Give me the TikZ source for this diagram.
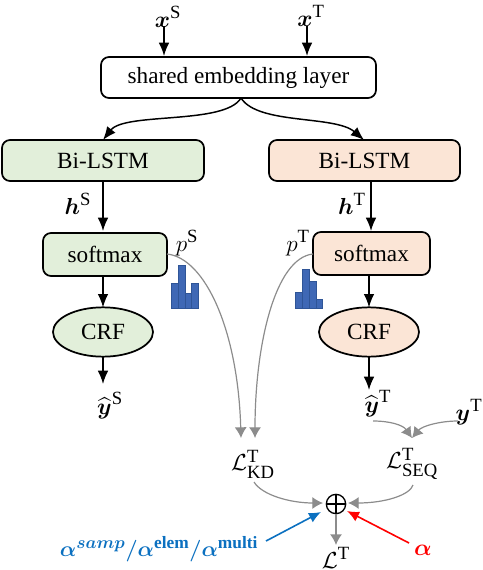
\RequirePackage{fix-cm}
\documentclass[tikz,border=0pt]{standalone}
\usepackage{amsmath,amssymb}
\usepackage{fontspec}
\setmainfont{Liberation Serif}
\DeclareMathSizes{17.4}{17.4}{14}{11}
\usetikzlibrary{arrows.meta,shapes.geometric}
\definecolor{gfill}{HTML}{E2EFDA}
\definecolor{ofill}{HTML}{FBE5D6}
\definecolor{grayline}{HTML}{8C8C8C}
\definecolor{bluearrow}{HTML}{0B70C0}
\definecolor{barfill}{HTML}{3F68B5}
\definecolor{baredge}{HTML}{2F5597}
\tikzset{
  x=0.75pt,y=-0.75pt,
  every node/.style={font=\fontsize{17.4}{20}\selectfont,inner sep=0pt,outer sep=0pt},
  rbox/.style={draw=black,line width=1.3pt,rounded corners=6pt,anchor=north west},
  crfnode/.style={draw=black,line width=1.3pt,ellipse,minimum width=75pt,minimum height=37pt},
  blackarrow/.style={line width=1.1pt,-{Latex[length=10pt,width=8pt]}},
  greyarrow/.style={draw=grayline,line width=0.9pt,-{Latex[length=8pt,width=9pt]}},
  bar/.style={draw=baredge,fill=barfill,line width=0.7pt},
}
\newcommand{\mybox}[7]{\node[rbox,fill=#6,minimum width=#4*0.75pt,minimum height=#5*0.75pt] (#1) at (#2,#3) {#7};}
\begin{document}
\begin{tikzpicture}
\useasboundingbox (0,0) rectangle (482,570);
% boxes
\mybox{shared}{101}{57}{275}{41}{white}{shared embedding layer}
\mybox{lstmS}{2}{140}{202}{41}{gfill}{Bi-LSTM}
\mybox{lstmT}{269}{140}{191}{41}{ofill}{Bi-LSTM}
\mybox{softS}{43}{233}{124}{43}{gfill}{softmax}
\mybox{softT}{313}{232}{117}{43}{ofill}{softmax\hspace{4.5pt}}
\node[crfnode,fill=gfill] (crfS) at (103,332) {CRF};
\node[crfnode,fill=ofill] (crfT) at (369,332) {CRF};
% labels
\node (xS) at (168,17) {$\boldsymbol{x}^{\mathrm{S}}$};
\node (xT) at (311,16) {$\boldsymbol{x}^{\mathrm{T}}$};
\node (hS) at (78,204) {$\boldsymbol{h}^{\mathrm{S}}$};
\node (hT) at (352,204) {$\boldsymbol{h}^{\mathrm{T}}$};
\node (pS) at (187,243) {$p^{\mathrm{S}}$};
\node (pT) at (298,243) {$p^{\mathrm{T}}$};
\node (yhS) at (110,406) {$\widehat{\boldsymbol{y}}^{\mathrm{S}}$};
\node (yhT) at (378,404) {$\widehat{\boldsymbol{y}}^{\mathrm{T}}$};
\node (yT) at (469,412) {$\boldsymbol{y}^{\mathrm{T}}$};
\node (LKD) at (253,464) {$\mathcal{L}^{\mathrm{T}}_{\mathrm{KD}}$};
\node (LSEQ) at (412,464) {$\mathcal{L}^{\mathrm{T}}_{\mathrm{SEQ}}$};
\node (LT) at (336,558) {$\mathcal{L}^{\mathrm{T}}$};
\node[text=red] (aR) at (423,550) {$\boldsymbol{\alpha}$};
\node[text=bluearrow,scale=0.93] (aB) at (159,549) {$\boldsymbol{\alpha}^{\boldsymbol{samp}}\boldsymbol{/}\boldsymbol{\alpha}^{\mathbf{elem}}\boldsymbol{/}\boldsymbol{\alpha}^{\mathbf{multi}}$};
\node[draw=black,line width=1pt,circle,minimum size=14.5pt] (plus) at (336,504) {};
\draw[black,line width=1pt] (plus.north) -- (plus.south) (plus.west) -- (plus.east);
% coordinates
\coordinate (sb) at (241,98);
\coordinate (lt1) at (103,140);
\coordinate (rt1) at (364,140);
\coordinate (pSs) at (167,254);
\coordinate (pSe) at (241,438);
\coordinate (pTs) at (313,254);
\coordinate (pTe) at (255,438);
\coordinate (yhTe) at (373,421);
\coordinate (yTe) at (458,421);
\coordinate (seqin) at (412,438);
\coordinate (kdout) at (254,482);
\coordinate (seqout) at (413,485);
\coordinate (bS) at (266,541);
\coordinate (bE) at (321,512);
\coordinate (rS) at (409,543);
\coordinate (rE) at (347,511);
\coordinate (ltin) at (323,503);
\coordinate (rtin) at (348,503);
% black connectors
\draw[blackarrow] (164,26) -- (164,56);
\draw[blackarrow] (307,26) -- (307,56);
\draw[blackarrow] (sb) .. controls (225,125) and (125,112) .. (lt1);
\draw[blackarrow] (sb) .. controls (258,125) and (335,115) .. (rt1);
\draw[blackarrow] (103,181) -- (103,231);
\draw[blackarrow] (371,181) -- (371,231);
\draw[blackarrow] (103,276) -- (crfS.north);
\draw[blackarrow] (369,275) -- (crfT.north);
\draw[blackarrow] (crfS.south) -- (103,384);
\draw[blackarrow] (crfT.south) -- (369,390);
% histograms
\draw[bar] (171,283) rectangle (178,308);
\draw[bar] (178,265) rectangle (185,308);
\draw[bar] (185,293) rectangle (191,308);
\draw[bar] (191,283) rectangle (198,308);
\draw[bar] (295,292) rectangle (302,308);
\draw[bar] (302,269) rectangle (309,308);
\draw[bar] (309,281) rectangle (316,308);
\draw[bar] (316,299) rectangle (322,308);
% grey connectors
\draw[greyarrow] (pSs) .. controls (205,258) and (238,330) .. (pSe);
\draw[greyarrow] (pTs) .. controls (275,258) and (255,345) .. (pTe);
\draw[greyarrow] (yhTe) .. controls (390,421) and (403,425) .. (seqin);
\draw[greyarrow] (yTe) .. controls (440,421) and (422,426) .. (seqin);
\draw[greyarrow] (kdout) .. controls (262,495) and (290,503) .. (ltin);
\draw[greyarrow] (seqout) .. controls (410,495) and (385,503) .. (rtin);
\draw[greyarrow,line width=1pt] (plus) -- (336,545);
\draw[draw=bluearrow,line width=1.2pt,-{Latex[length=9pt,width=8pt]}] (bS) -- (bE);
\draw[draw=red,line width=1.2pt,-{Latex[length=9pt,width=8pt]}] (rS) -- (rE);
\end{tikzpicture}
\end{document}
